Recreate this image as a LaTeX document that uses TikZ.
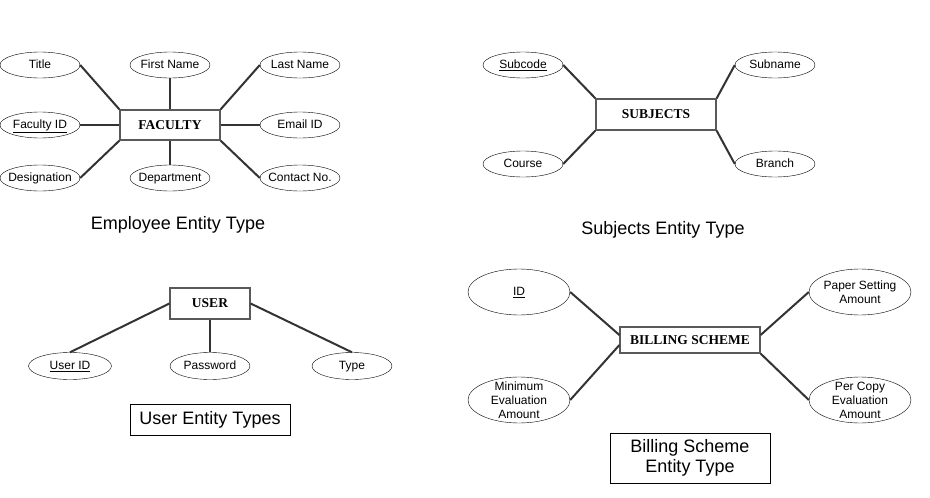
\documentclass[tikz,border=0pt]{standalone}
\usepackage{fontspec}
\setmainfont{Liberation Sans}
\newfontfamily\entityfont{Liberation Serif}
\usetikzlibrary{positioning, shapes.geometric}

\tikzset{
	attr/.style={draw, ellipse, inner xsep=-6pt, inner ysep=0pt, minimum width=80pt, minimum height=26pt, text height=9.5pt, text depth=2pt, font=\fontsize{12}{14}\selectfont},
	attrmulti/.style={draw, ellipse, inner xsep=-6pt, inner ysep=-6pt, align=center, font=\fontsize{12}{14}\selectfont},
	entity/.style={draw=black!65, line width=1.2pt, rectangle, inner sep=0pt, text height=10pt, text depth=2pt, font=\entityfont\bfseries\fontsize{13.5}{15}\selectfont},
	link/.style={draw=black!80, line width=2pt},
	caption/.style={align=center, inner sep=0pt, font=\fontsize{18}{20}\selectfont}
}

\begin{document}
\begin{tikzpicture}[x=1pt, y=-1pt]
		\fill[white] (0,0) rectangle (930,498);
		\useasboundingbox (0,0) rectangle (930,498);
		%faculty
		\node[entity, minimum width=100pt, minimum height=30pt] (faculty) at (170,125) {FACULTY};
		\node[attr] (title) at (40,65) {Title};
		\node[attr] (fname) at (170,65) {First Name};
		\node[attr] (lname) at (300,65) {Last Name};
		\node[attr] (facid) at (40,125) {\underline{Faculty ID}};
		\node[attr] (email) at (300,125) {Email ID};
		\node[attr] (desig) at (40,178) {Designation};
		\node[attr] (dept) at (170,178) {Department};
		\node[attr] (contact) at (300,178) {Contact No.};
		\draw[link] (title.east) -- (faculty.north west);
		\draw[link] (fname) -- (faculty);
		\draw[link] (lname.west) -- (faculty.north east);
		\draw[link] (facid) -- (faculty);
		\draw[link] (email) -- (faculty);
		\draw[link] (desig.east) -- (faculty.south west);
		\draw[link] (dept) -- (faculty);
		\draw[link] (contact.west) -- (faculty.south east);
		\node[caption] (empcap) at (178,225) {Employee Entity Type};
		%subjects
		\node[entity, minimum width=120pt, minimum height=31pt] (subjects) at (656,114.5) {SUBJECTS};
		\node[attr] (subcode) at (523,65) {\underline{Subcode}};
		\node[attr] (subname) at (775,65) {Subname};
		\node[attr] (course) at (523,164) {Course};
		\node[attr] (branch) at (775,164) {Branch};
		\draw[link] (subcode.east) -- (subjects.north west);
		\draw[link] (course.east) -- (subjects.south west);
		\draw[link] (subname.west) -- (subjects.north east);
		\draw[link] (branch.west) -- (subjects.south east);
		\node[caption] (subcap) at (663,230) {Subjects Entity Type};
		%user
		\node[entity, minimum width=80pt, minimum height=31pt] (user) at (210,303.5) {USER};
		\node[attr, minimum width=83pt, minimum height=27pt] (userid) at (70,366) {\underline{User ID}};
		\node[attr, minimum height=27pt] (pass) at (210,366) {Password};
		\node[attr, minimum height=27pt] (type) at (352,366) {Type};
		\draw[link] (userid.north) -- (user.west);
		\draw[link] (pass) -- (user);
		\draw[link] (type.north) -- (user.east);
		\node[caption, draw, line width=0.8pt, minimum width=160pt, minimum height=31pt] (usercap) at (210,420) {User Entity Types};
		%billing
		\node[entity, minimum width=140pt, minimum height=26pt] (bill) at (690,340) {BILLING SCHEME};
		\node[attr, minimum width=102pt, minimum height=46pt] (id) at (519,292) {\underline{ID}};
		\node[attrmulti, minimum width=102pt, minimum height=46pt] (paper) at (860,292) {Paper Setting\\Amount};
		\node[attrmulti, minimum width=102pt, minimum height=46pt] (minamt) at (519,400) {Minimum\\Evaluation\\Amount};
		\node[attrmulti, minimum width=102pt, minimum height=46pt] (percopy) at (860,400) {Per Copy\\Evaluation\\Amount};
		\draw[link] (id.east) -- ([yshift=5pt]bill.west);
		\draw[link] (minamt.east) -- ([yshift=-5pt]bill.west);
		\draw[link] (paper.west) -- ([yshift=5pt]bill.east);
		\draw[link] (percopy.west) -- (bill.south east);
		\node[caption, draw, line width=0.8pt, minimum width=160pt, minimum height=50pt] (billcap) at (690,458) {Billing Scheme\\Entity Type};
\end{tikzpicture}
\end{document}
